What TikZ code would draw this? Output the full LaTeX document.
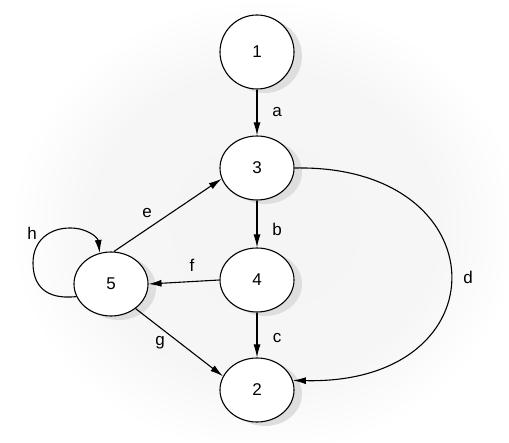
\documentclass[tikz,border=0pt]{standalone}
\usepackage{fontspec}
\setmainfont{Liberation Sans}
\usetikzlibrary{arrows.meta,shadows,shapes.geometric}
\pgfdeclareradialshading{glow}{\pgfpoint{0bp}{0bp}}{color(0bp)=(black!4); color(17bp)=(black!3.5); color(25bp)=(white); color(50bp)=(white)}
\begin{document}
\begin{tikzpicture}[x=1pt,y=-1pt,
  state/.style={ellipse, draw, line width=1.1pt, fill=white, minimum width=74pt, minimum height=64pt, inner sep=0pt,
    font=\fontsize{17}{20}\selectfont,
    drop shadow={shadow xshift=8pt, shadow yshift=-4pt, fill=black!13, opacity=1}},
  lbl/.style={font=\fontsize{17}{20}\selectfont, inner sep=0pt},
  edge/.style={line width=1.1pt, -{Latex[length=13pt,width=7pt]}}]
\useasboundingbox (0,0) rectangle (509,443);
\shade[shading=glow] (265,226) ellipse (255 and 228);
\node[state, minimum width=74pt, minimum height=74pt] (n1) at (257,52) {1};
\node[state] (n3) at (257,168) {3};
\node[state] (n4) at (257,280) {4};
\node[state] (n2) at (257,390) {2};
\node[state] (n5) at (111,284) {5};
\draw[edge] (n1) -- (n3);
\draw[edge] (n3) -- (n4);
\draw[edge] (n4) -- (n2);
\draw[edge] (n4.west) -- (n5.east);
\draw[edge] (n5.85) -- (n3.197);
\draw[edge] (n5.-45) -- (n2.158);
\draw[edge] (n3.east) .. controls (500,164) and (505,385) .. (n2.15);
\draw[edge] (n5.200) .. controls (45,300) and (33,285) .. (33,263)
  .. controls (33,240) and (50,228) .. (70,228)
  .. controls (88,228) and (98,238) .. (n5.110);
\node[lbl] (la) at (277,112) {a};
\node[lbl] (lb) at (277,229) {b};
\node[lbl] (lc) at (277,338) {c};
\node[lbl] (ld) at (468,277) {d};
\node[lbl] (le) at (147,213) {e};
\node[lbl] (lf) at (192,265) {f};
\node[lbl] (lg) at (160,343) {g};
\node[lbl] (lh) at (32,233) {h};
\end{tikzpicture}
\end{document}
